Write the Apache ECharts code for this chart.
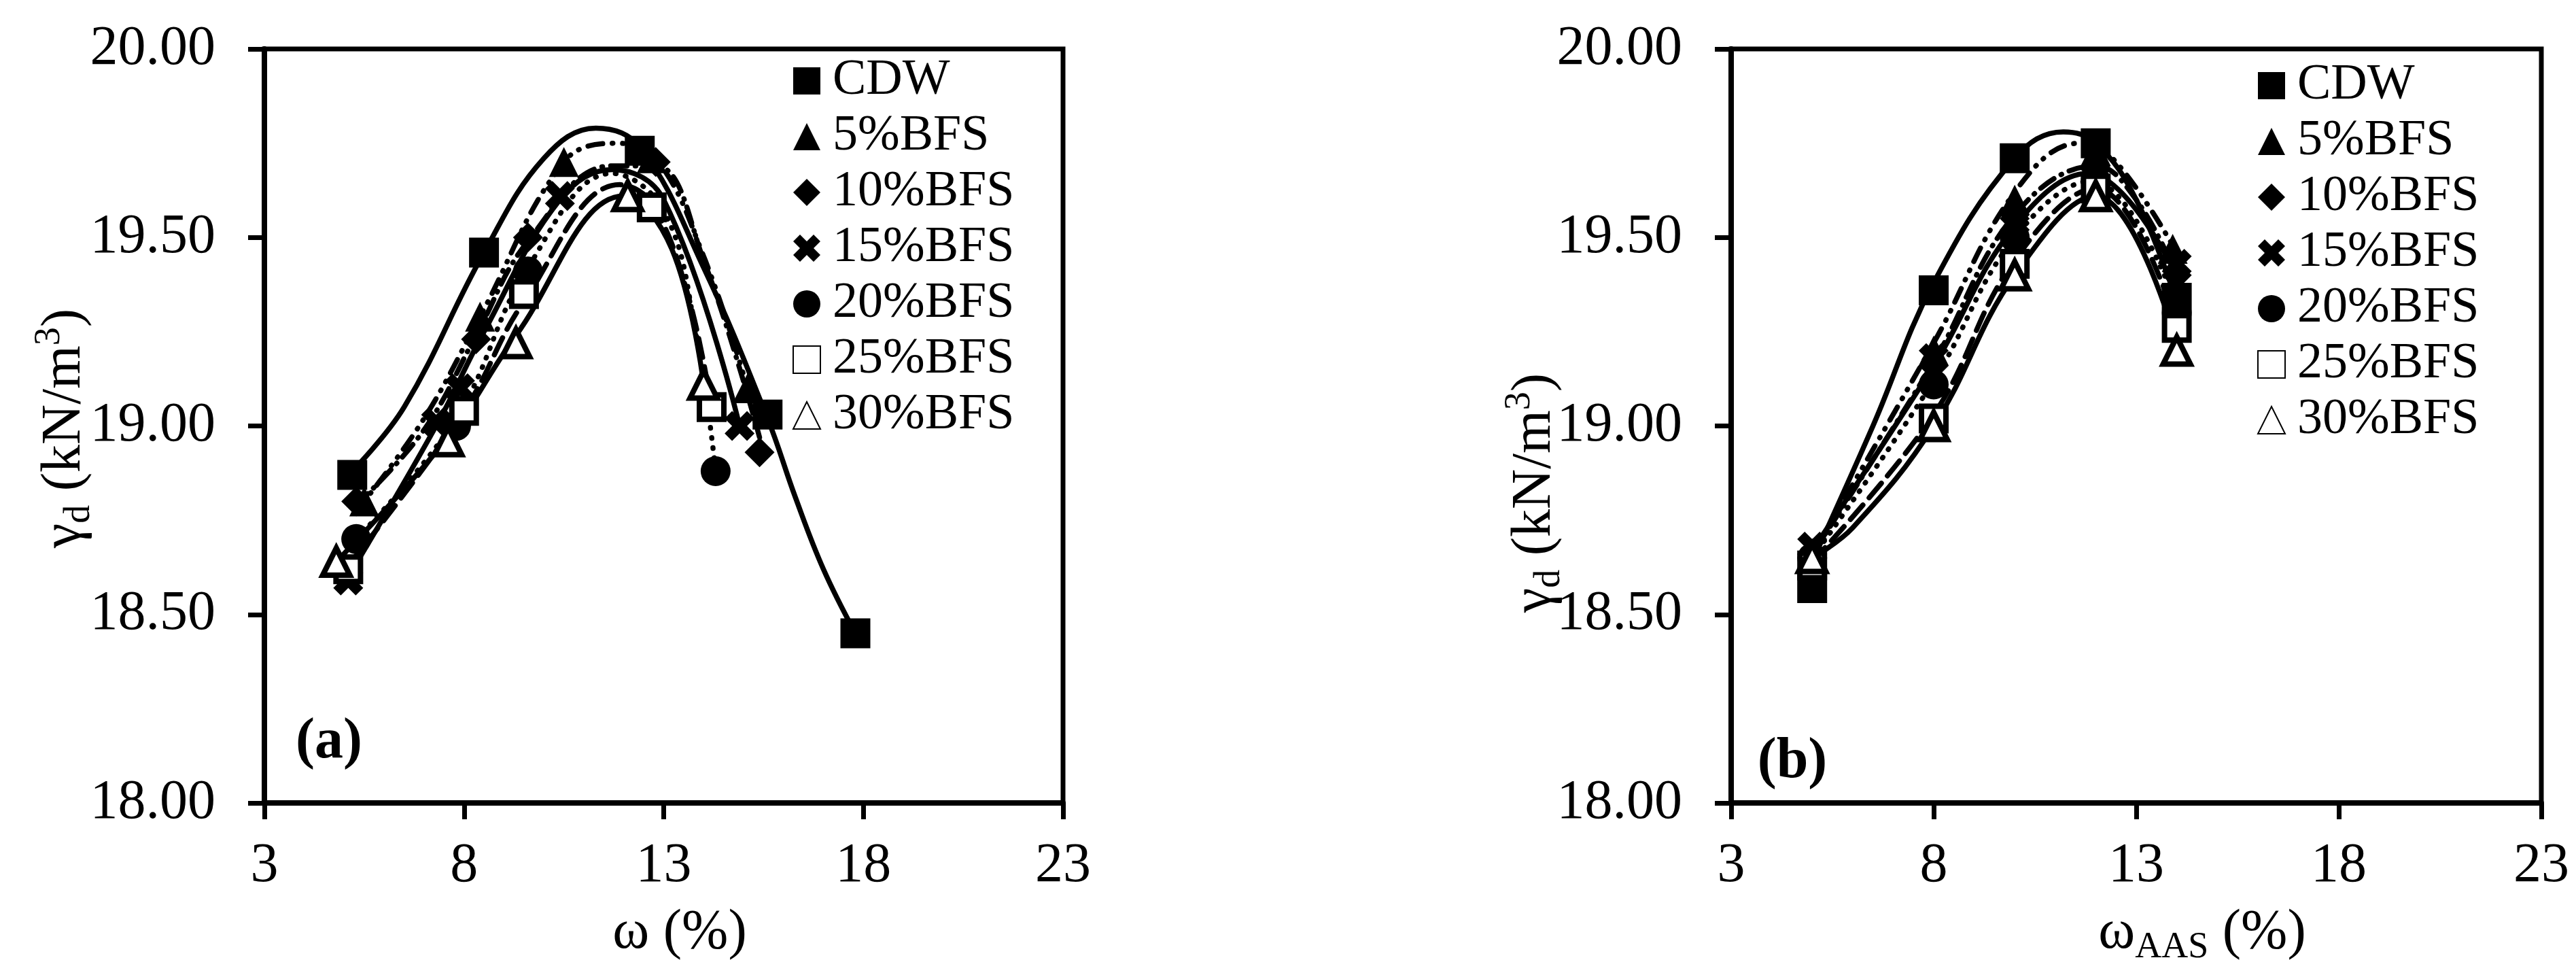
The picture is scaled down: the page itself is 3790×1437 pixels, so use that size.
<!DOCTYPE html>
<html>
<head>
<meta charset="utf-8">
<script src="https://cdn.jsdelivr.net/npm/echarts@6/dist/echarts.min.js"></script>
<style>
html, body { margin: 0; padding: 0; background: #fff; }
#container { width: 3790px; height: 1437px; }
</style>
</head>
<body>
<div id="container"></div>
<script>
// mixes, same order in both panels
var mixes = ['CDW', '5%BFS', '10%BFS', '15%BFS', '20%BFS', '25%BFS', '30%BFS'];
var xTicks = [3, 8, 13, 18, 23];
var yTicks = [18, 18.5, 19, 19.5, 20];

// (a) measured points  [w %, gamma_d]
var a_CDW = [[5.2, 18.87], [8.5, 19.46], [12.4, 19.73], [15.6, 19.03], [17.8, 18.45]];
var a_BFS5 = [[5.5, 18.80], [8.4, 19.29], [10.5, 19.70], [12.7, 19.71], [15.1, 19.10]];
var a_BFS10 = [[5.3, 18.80], [8.3, 19.23], [9.6, 19.50], [12.8, 19.70], [15.4, 18.93]];
var a_BFS15 = [[5.1, 18.59], [7.3, 19.01], [7.9, 19.10], [10.4, 19.61], [14.9, 19.00]];
var a_BFS20 = [[5.3, 18.70], [7.8, 19.00], [9.6, 19.41], [14.3, 18.88]];
var a_BFS25 = [[5.1, 18.62], [8.0, 19.04], [9.5, 19.35], [12.7, 19.58], [14.2, 19.05]];
var a_BFS30 = [[4.8, 18.64], [7.6, 18.96], [9.3, 19.22], [12.1, 19.61], [14.0, 19.11]];

// (a) trend curves
var a_CDW_fit = [[5.2, 18.88], [6.5, 19.05], [8.5, 19.46], [10, 19.71], [11.3, 19.79], [12.4, 19.74], [14, 19.42], [15.6, 19.02], [16.3, 18.81], [17.0, 18.62], [17.8, 18.45]];
var a_BFS5_fit = [[5.5, 18.80], [7, 19.02], [8.4, 19.29], [10.5, 19.70], [11.8, 19.75], [12.8, 19.71], [14, 19.45], [15.1, 19.10]];
var a_BFS10_fit = [[5.3, 18.79], [7, 18.99], [8.3, 19.24], [9.6, 19.49], [11.7, 19.69], [12.8, 19.69], [14, 19.44], [15.4, 18.97]];
var a_BFS15_fit = [[5.1, 18.60], [7.3, 19.00], [8.5, 19.25], [10.4, 19.60], [11.7, 19.68], [13, 19.60], [14.9, 19.00]];
var a_BFS20_fit = [[5.3, 18.70], [7.8, 19.02], [9.6, 19.42], [11.7, 19.67], [13, 19.57], [13.8, 19.25], [14.3, 18.88]];
var a_BFS25_fit = [[5.1, 18.63], [8.0, 19.04], [9.5, 19.33], [11.9, 19.64], [12.7, 19.59], [13.6, 19.35], [14.2, 19.05]];
var a_BFS30_fit = [[4.8, 18.64], [7.6, 18.97], [9.3, 19.24], [12.0, 19.61], [13.2, 19.47], [14.0, 19.11]];

// (b) measured points  [w_AAS %, gamma_d]
var b_CDW = [[5, 18.57], [8, 19.36], [10, 19.71], [12, 19.75], [14, 19.34]];
var b_BFS5 = [[5, 18.66], [8, 19.20], [10, 19.60], [12, 19.73], [13.9, 19.47]];
var b_BFS10 = [[5, 18.66], [8, 19.16], [10, 19.55], [12, 19.68], [14, 19.40]];
var b_BFS15 = [[5, 18.68], [8, 19.18], [10, 19.54], [12, 19.67], [14, 19.43]];
var b_BFS20 = [[5, 18.65], [8, 19.11], [10, 19.50], [12, 19.65], [14, 19.30]];
var b_BFS25 = [[5, 18.63], [8, 19.02], [10, 19.43], [12, 19.63], [14, 19.26]];
var b_BFS30 = [[5, 18.65], [8, 19.00], [10, 19.40], [12, 19.61], [14, 19.20]];

// (b) trend curves
var b_CDW_fit = [[5, 18.64], [6.5, 19.00], [8, 19.38], [10, 19.71], [11.2, 19.78], [12, 19.75], [13, 19.60], [14, 19.33]];
var b_BFS5_fit = [[5, 18.66], [8, 19.22], [10, 19.62], [11.6, 19.75], [12.5, 19.70], [14, 19.46]];
var b_BFS10_fit = [[5, 18.66], [8, 19.17], [10, 19.56], [12, 19.69], [13, 19.60], [14, 19.40]];
var b_BFS15_fit = [[5, 18.67], [8, 19.16], [10, 19.53], [11.8, 19.67], [14, 19.40]];
var b_BFS20_fit = [[5, 18.65], [8, 19.12], [10, 19.50], [11.9, 19.65], [14, 19.32]];
var b_BFS25_fit = [[5, 18.64], [8, 19.03], [10, 19.44], [12, 19.63], [14, 19.27]];
var b_BFS30_fit = [[5, 18.65], [6, 18.73], [8, 19.00], [10, 19.40], [12, 19.61], [14, 19.22]];

var ptsA = [a_CDW, a_BFS5, a_BFS10, a_BFS15, a_BFS20, a_BFS25, a_BFS30];
var fitA = [a_CDW_fit, a_BFS5_fit, a_BFS10_fit, a_BFS15_fit, a_BFS20_fit, a_BFS25_fit, a_BFS30_fit];
var ptsB = [b_CDW, b_BFS5, b_BFS10, b_BFS15, b_BFS20, b_BFS25, b_BFS30];
var fitB = [b_CDW_fit, b_BFS5_fit, b_BFS10_fit, b_BFS15_fit, b_BFS20_fit, b_BFS25_fit, b_BFS30_fit];

var FONT = '"Times New Roman", "Liberation Serif", serif';
// thick "x" marker
var CROSS = 'path://M0,3 L3,0 L6,3 L9,0 L12,3 L9,6 L12,9 L9,12 L6,9 L3,12 L0,9 L3,6 Z';
var symbols = ['rect', 'triangle', 'diamond', CROSS, 'circle', 'rect', 'triangle'];
var symSizes = [44, 44, 44, 44, 44, 36, 40];
var hollow = [false, false, false, false, false, true, true];
var lineTypes = ['solid', [1, 14, 1, 14, 22, 14], [24, 12, 1, 12], 'solid', [1, 14], [28, 14], 'solid'];

var dom = document.getElementById('container');
var myChart = echarts.init(dom);

function markerSeries(name, data, i, idx) {
    return {
        type: 'scatter',
        name: name,
        data: data,
        xAxisIndex: idx,
        yAxisIndex: idx,
        symbol: symbols[i],
        symbolSize: symSizes[i],
        itemStyle: hollow[i]
            ? { color: '#fff', borderColor: '#000', borderWidth: 8, opacity: 1 }
            : { color: '#000', opacity: 1 },
        z: 5,
        silent: true
    };
}

function fitSeries(name, data, i, idx) {
    return {
        type: 'line',
        name: name + ' fit',
        data: data,
        xAxisIndex: idx,
        yAxisIndex: idx,
        smooth: 0.4,
        showSymbol: false,
        symbol: 'none',
        lineStyle: { color: '#000', width: 7.5, type: lineTypes[i], cap: 'round', opacity: 1 },
        z: 3,
        silent: true
    };
}

function xAxisOf(idx) {
    return {
        type: 'value', gridIndex: idx, min: 3, max: 23, interval: 5,
        axisLine: { show: true, onZero: false, lineStyle: { color: '#000', width: 8 } },
        axisTick: { show: true, length: 24, customValues: xTicks, lineStyle: { color: '#000', width: 7 } },
        axisLabel: { customValues: xTicks, margin: 52, color: '#000', fontSize: 82, fontFamily: FONT },
        splitLine: { show: false }
    };
}

function yAxisOf(idx) {
    return {
        type: 'value', gridIndex: idx, min: 18, max: 20, interval: 0.5,
        axisLine: { show: true, onZero: false, lineStyle: { color: '#000', width: 8 } },
        axisTick: { show: true, length: 24, customValues: yTicks, lineStyle: { color: '#000', width: 7 } },
        axisLabel: {
            customValues: yTicks, margin: 72, color: '#000', fontSize: 82, fontFamily: FONT,
            formatter: function (v) { return v.toFixed(2); }
        },
        splitLine: { show: false }
    };
}

function legendOf(left, top, suffix) {
    return {
        orient: 'vertical', left: left, top: top,
        data: mixes.map(function (m) { return m + suffix; }),
        formatter: function (n) { return n.replace(suffix, ''); },
        itemWidth: 40, itemHeight: 40, itemGap: 8,
        selectedMode: false,
        textStyle: { color: '#000', fontSize: 74, fontFamily: FONT, padding: [0, 0, 0, 13] }
    };
}

var series = [];
mixes.forEach(function (m, i) {
    series.push(fitSeries(m, fitA[i], i, 0));
    series.push(markerSeries(m, ptsA[i], i, 0));
    series.push(fitSeries(m + ' (b)', fitB[i], i, 1));
    series.push(markerSeries(m + ' (b)', ptsB[i], i, 1));
});

var rich = {
    g: { fontSize: 82, fontFamily: FONT, color: '#000' },
    s: { fontSize: 54, fontFamily: FONT, color: '#000', padding: [44, 0, 0, 0] },
    p: { fontSize: 54, fontFamily: FONT, color: '#000', padding: [0, 0, 44, 0] }
};

function label(text, x, y, rot, extra) {
    var st = { text: text, x: 0, y: 0, align: 'center', verticalAlign: 'middle', fill: '#000', rich: rich, fontSize: 82, fontFamily: FONT };
    if (extra) { for (var k in extra) st[k] = extra[k]; }
    return { type: 'text', x: x, y: y, rotation: rot, style: st, z: 10 };
}

option = {
    backgroundColor: '#fff',
    animation: false,
    grid: [
        { left: 389, top: 72, width: 1175, height: 1109, show: true, borderColor: '#000', borderWidth: 7 },
        { left: 2547, top: 72, width: 1192, height: 1109, show: true, borderColor: '#000', borderWidth: 7 }
    ],
    xAxis: [xAxisOf(0), xAxisOf(1)],
    yAxis: [yAxisOf(0), yAxisOf(1)],
    legend: [legendOf(1161, 77, ''), legendOf(3316, 84, ' (b)')],
    graphic: [
        label('{g|γ}{s|d}{g| (kN/m}{p|3}{g|)}', 95, 630, Math.PI / 2),
        label('{g|γ}{s|d}{g| (kN/m}{p|3}{g|)}', 2258, 725, Math.PI / 2),
        label('{g|ω (%)}', 1000, 1372, 0),
        label('{g|ω}{s|AAS}{g| (%)}', 3240, 1372, 0),
        label('(a)', 484, 1092, 0, { fontWeight: 'bold', fontSize: 84 }),
        label('(b)', 2637, 1121, 0, { fontWeight: 'bold', fontSize: 84 })
    ],
    series: series
};

myChart.setOption(option, true);
</script>
</body>
</html>
